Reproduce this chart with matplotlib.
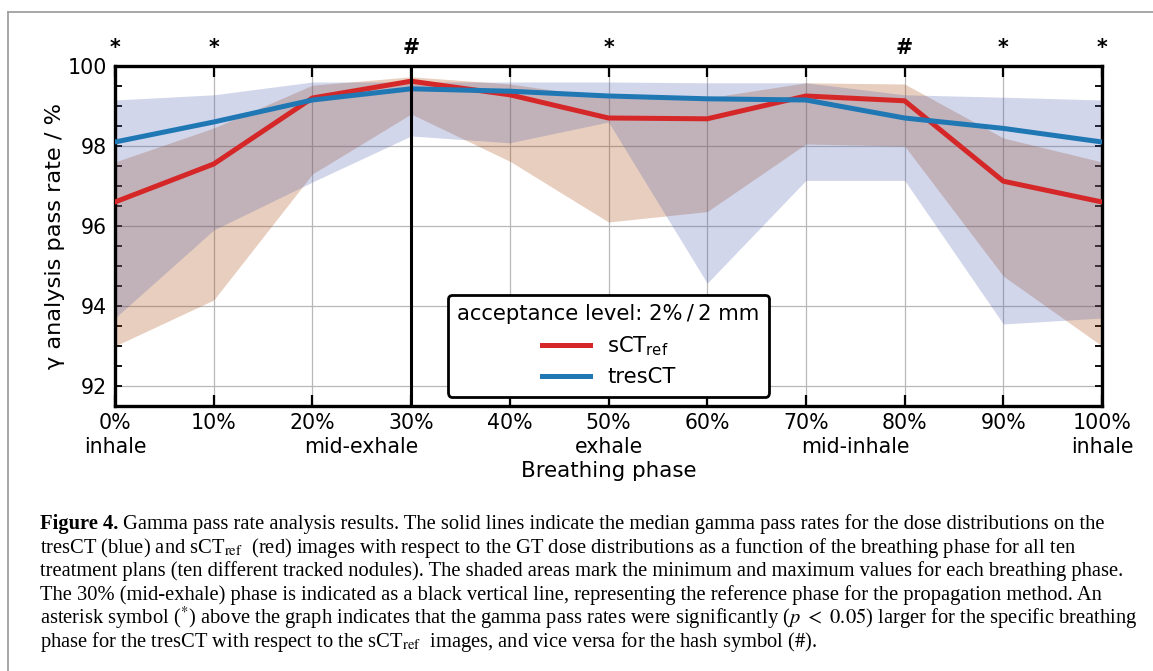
import matplotlib.pyplot as plt
import matplotlib.transforms as mtransforms
from matplotlib.lines import Line2D
from matplotlib.ticker import MultipleLocator

# breathing phases (%)
phase = [0, 10, 20, 30, 40, 50, 60, 70, 80, 90, 100]
phase_labels = ['0%', '10%', '20%', '30%', '40%', '50%', '60%', '70%', '80%', '90%', '100%']
name_pos = [0, 25, 50, 75, 100]
phase_names = ['inhale', 'mid-exhale', 'exhale', 'mid-inhale', 'inhale']

# median / min / max gamma pass rates
sct_med = [96.6, 97.55, 99.2, 99.62, 99.28, 98.7, 98.68, 99.25, 99.13, 97.12, 96.6]
sct_min = [93.0, 94.15, 97.3, 98.8, 97.62, 96.1, 96.36, 98.05, 98.0, 94.75, 93.0]
sct_max = [97.6, 98.45, 99.52, 99.73, 99.55, 99.2, 99.2, 99.58, 99.55, 98.2, 97.6]

tres_med = [98.1, 98.6, 99.15, 99.43, 99.37, 99.25, 99.18, 99.15, 98.7, 98.44, 98.1]
tres_min = [93.7, 95.9, 97.1, 98.25, 98.08, 98.6, 94.57, 97.14, 97.14, 93.55, 93.7]
tres_max = [99.15, 99.28, 99.6, 99.6, 99.6, 99.6, 99.58, 99.58, 99.28, 99.22, 99.15]

# significance markers above the plot
sig_pos = [0, 10, 30, 50, 80, 90, 100]
sig_sym = ['*', '*', '#', '*', '#', '*', '*']

caption = [
    'Gamma pass rate analysis results. The solid lines indicate the median gamma pass rates for the dose distributions on the',
    r'tresCT (blue) and sCT$_{\rm ref}$  (red) images with respect to the GT dose distributions as a function of the breathing phase for all ten',
    'treatment plans (ten different tracked nodules). The shaded areas mark the minimum and maximum values for each breathing phase.',
    'The 30% (mid-exhale) phase is indicated as a black vertical line, representing the reference phase for the propagation method. An',
    r'asterisk symbol ($^{*}$) above the graph indicates that the gamma pass rates were significantly ($p\ <\ 0.05$) larger for the specific breathing',
    r'phase for the tresCT with respect to the sCT$_{\rm ref}$  images, and vice versa for the hash symbol ($\#$).',
]

W, H = 1153, 671
fs = 14.8
red = '#d62728'
blue = '#1f77b4'

fig = plt.figure(figsize=(W / 100, H / 100), dpi=100)
ax = fig.add_axes([115 / W, 1 - 406 / H, (1102 - 115) / W, (406 - 66) / H])

ax.fill_between(phase, sct_min, sct_max, color='#a74305', alpha=0.26, lw=0, zorder=1)
ax.fill_between(phase, tres_min, tres_max, color='#5261ae', alpha=0.26, lw=0, zorder=1)
ax.plot(phase, sct_med, color=red, lw=3.6, zorder=3, label=r'sCT$_{\rm ref}$')
ax.plot(phase, tres_med, color=blue, lw=3.6, zorder=3, label='tresCT')
ax.axvline(30, color='black', lw=2.2, zorder=4)

ax.set_xlim(0, 100)
ax.set_ylim(91.5, 100)
ax.set_xticks(phase)
ax.set_xticklabels(phase_labels)
ax.set_yticks([92, 94, 96, 98, 100])
ax.yaxis.set_minor_locator(MultipleLocator(0.5))
ax.set_axisbelow(True)
ax.grid(True, which='major', color='#b8b8b8', lw=0.9)

ax.tick_params(axis='x', which='major', direction='in', top=True, bottom=True,
               length=8, width=1.6, labelsize=fs, pad=5)
ax.tick_params(axis='y', which='both', direction='in', left=True, right=True,
               length=5, width=1.3, labelsize=fs, pad=6)
for sp in ax.spines.values():
    sp.set_linewidth(2.4)

trans = mtransforms.blended_transform_factory(ax.transData, ax.transAxes)
for x, name in zip(name_pos, phase_names):
    ax.text(x, -0.121, name, transform=trans, ha='center', va='center', fontsize=fs)
for x, s in zip(sig_pos, sig_sym):
    ax.text(x, 1.035, s, transform=trans, ha='center', va='baseline', fontsize=fs, fontweight='bold')

ax.set_ylabel('γ analysis pass rate / %', fontsize=16.2, labelpad=2)
ax.set_xlabel('Breathing phase', fontsize=15.4, labelpad=20)

leg = ax.legend(loc='lower center', title='acceptance level: 2%\u2009/\u20092 mm', fontsize=15.2,
                title_fontsize=15.2, handlelength=2.3, fancybox=True, framealpha=1,
                edgecolor='black', borderpad=0.45, labelspacing=0.45, borderaxespad=0.45)
leg.get_frame().set_linewidth(2.0)
leg.set_zorder(10)

# gray frame (left and top edge)
fig.add_artist(Line2D([8 / W, 8 / W], [0, 1 - 12 / H], transform=fig.transFigure, color='#a0a0a0', lw=1.3))
fig.add_artist(Line2D([8 / W, 1], [1 - 12 / H, 1 - 12 / H], transform=fig.transFigure, color='#a0a0a0', lw=1.3))

# caption, fitted to the width of the longest line
renderer = fig.canvas.get_renderer()
cfs = 14
probe = fig.text(0, 0, caption[2], fontsize=cfs, family='Liberation Serif')
w = probe.get_window_extent(renderer).width
probe.remove()
cfs = cfs * (1132 - 40) / w

x0 = 40 / W
baselines = [529, 553, 576, 600, 624, 647]
bold = fig.text(x0, 1 - baselines[0] / H, 'Figure 4.', fontsize=cfs, family='Liberation Serif',
                fontweight='bold', va='baseline')
bw = bold.get_window_extent(renderer).width
for i, line in enumerate(caption):
    x = x0 + (bw + cfs * 0.3) / W if i == 0 else x0
    fig.text(x, 1 - baselines[i] / H, line, fontsize=cfs, family='Liberation Serif',
             va='baseline', math_fontfamily='stix')

fig.savefig('out.png', dpi=100)
